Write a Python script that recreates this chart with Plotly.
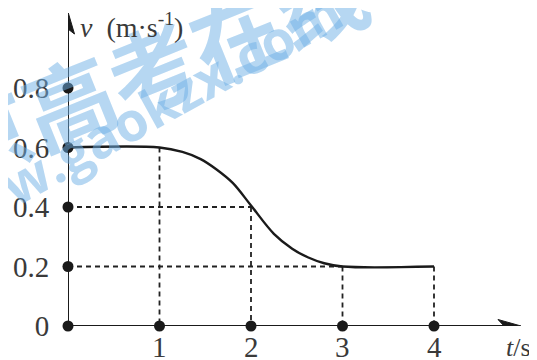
import plotly.graph_objects as go

# ---- data ----
t_curve = [0, 1, 1.25, 1.45, 1.62, 1.8, 2.0, 2.25, 2.45, 2.62, 2.8, 3, 4]
v_curve = [0.6, 0.6, 0.585, 0.561, 0.527, 0.481, 0.405, 0.31, 0.26, 0.231, 0.211, 0.2, 0.2]

x_ticks = [1, 2, 3, 4]
x_tick_labels = ["1", "2", "3", "4"]
y_ticks = [0, 0.2, 0.4, 0.6, 0.8]
y_tick_labels = ["0", "0.2", "0.4", "0.6", "0.8"]

# dashed guides: (t, v) points projected to axes
guide_vertical = [(1, 0.6), (2, 0.4), (3, 0.2), (4, 0.2)]
guide_horizontal = [(2, 0.4), (3, 0.2)]

# ---- layout geometry (page pixels; the page body adds an 8px offset) ----
OFF = 8
PAGE_W, PAGE_H = 537, 360
OX, OY = 68, 326          # origin on the page
RIGHT, TOP = 525, 13      # plot-area edges on the page
PX_X, PX_Y = 91.5, 297.5  # pixels per unit

W, H = PAGE_W - OFF, PAGE_H - OFF
ML, MT = OX - OFF, TOP - OFF
MR = W - (RIGHT - OFF)
MB = H - (OY - OFF)
xr = [0, (RIGHT - OX) / PX_X]
yr = [0, (OY - TOP) / PX_Y]


def dx(px):
    return (px - OX) / PX_X


def dy(py):
    return (OY - py) / PX_Y


def px_paper(px):
    return (px - OX) / (RIGHT - OX)


def py_paper(py):
    return (OY - py) / (OY - TOP)


INK = "#1a1a1a"
TXT = "#3a3a3a"
SERIF = "Liberation Serif, Times New Roman, serif"
WM = "rgba(110,175,230,0.5)"

fig = go.Figure()

# dashed guides
for (t, v) in guide_vertical:
    fig.add_trace(go.Scatter(x=[t, t], y=[v, 0], mode="lines",
                             line=dict(color="#222", width=1.8, dash="5px,4px"),
                             hoverinfo="skip", showlegend=False))
for (t, v) in guide_horizontal:
    fig.add_trace(go.Scatter(x=[0, t], y=[v, v], mode="lines",
                             line=dict(color="#222", width=1.8, dash="5px,4px"),
                             hoverinfo="skip", showlegend=False))

# main curve
fig.add_trace(go.Scatter(x=t_curve, y=v_curve, mode="lines",
                         line=dict(color=INK, width=2.4, shape="spline", smoothing=1.0),
                         cliponaxis=False, showlegend=False))

# axes lines
fig.add_shape(type="line", x0=0, y0=0, x1=dx(512), y1=0, line=dict(color=INK, width=2))
fig.add_shape(type="line", x0=0, y0=0, x1=0, y1=dy(22), line=dict(color=INK, width=2))
# arrowheads
xa = f"M{dx(521)},{dy(326)} L{dx(498)},{dy(319.5)} L{dx(504)},{dy(326)} L{dx(498)},{dy(332.5)} Z"
ya = f"M{dx(68)},{dy(12)} L{dx(61.5)},{dy(34)} L{dx(68)},{dy(29)} L{dx(74.5)},{dy(34)} Z"
fig.add_shape(type="path", path=xa, fillcolor=INK, line=dict(color=INK, width=1))
fig.add_shape(type="path", path=ya, fillcolor=INK, line=dict(color=INK, width=1))

# dots on axes
fig.add_trace(go.Scatter(x=x_ticks, y=[0] * len(x_ticks), mode="markers",
                         marker=dict(color=INK, size=11), cliponaxis=False, showlegend=False))
fig.add_trace(go.Scatter(x=[0] * len(y_ticks), y=y_ticks, mode="markers",
                         marker=dict(color=INK, size=11), cliponaxis=False, showlegend=False))

# watermark
fig.add_annotation(x=px_paper(110), y=py_paper(82), xref="paper", yref="paper",
                   xanchor="center", yanchor="middle",
                   text="<b>北京高考在线</b>", showarrow=False, textangle=-22,
                   font=dict(family="Noto Sans CJK SC", size=90, color=WM))
fig.add_annotation(x=px_paper(130), y=py_paper(120), xref="paper", yref="paper",
                   xanchor="center", yanchor="middle",
                   text="<b>www.gaokzx.com</b>", showarrow=False, textangle=-29,
                   font=dict(family="Open Sans, DejaVu Sans", size=54, color=WM))

# x tick labels (placed on the x scale)
for tv, tl in zip(x_ticks, x_tick_labels):
    fig.add_annotation(x=tv, y=py_paper(347), xref="x", yref="paper", text=tl,
                       showarrow=False, xanchor="center", yanchor="middle",
                       font=dict(family=SERIF, size=29, color=TXT))

# axis titles
fig.add_annotation(x=px_paper(78), y=py_paper(26), xref="paper", yref="paper",
                   xanchor="left", yanchor="middle",
                   text="<i>v</i>  (m·s<sup>-1</sup>)", showarrow=False,
                   font=dict(family=SERIF, size=28, color=TXT))
fig.add_annotation(x=px_paper(533), y=py_paper(347), xref="paper", yref="paper",
                   xanchor="right", yanchor="middle",
                   text="<i>t</i>/s", showarrow=False,
                   font=dict(family=SERIF, size=26, color=TXT))

fig.update_layout(
    width=W, height=H,
    margin=dict(l=ML, r=MR, t=MT, b=MB, autoexpand=False),
    paper_bgcolor="white", plot_bgcolor="white",
    xaxis=dict(range=xr, tickvals=x_ticks, showticklabels=False, ticks="",
               showgrid=False, zeroline=False, automargin=False,
               showline=False, fixedrange=True),
    yaxis=dict(range=yr, tickvals=y_ticks, ticktext=y_tick_labels, ticks="outside",
               ticklen=12, tickcolor="rgba(0,0,0,0)", showgrid=False, zeroline=False,
               automargin=False,
               showline=False, tickfont=dict(family=SERIF, size=29, color=TXT), fixedrange=True),
    showlegend=False,
)

fig.write_html("out.html")
